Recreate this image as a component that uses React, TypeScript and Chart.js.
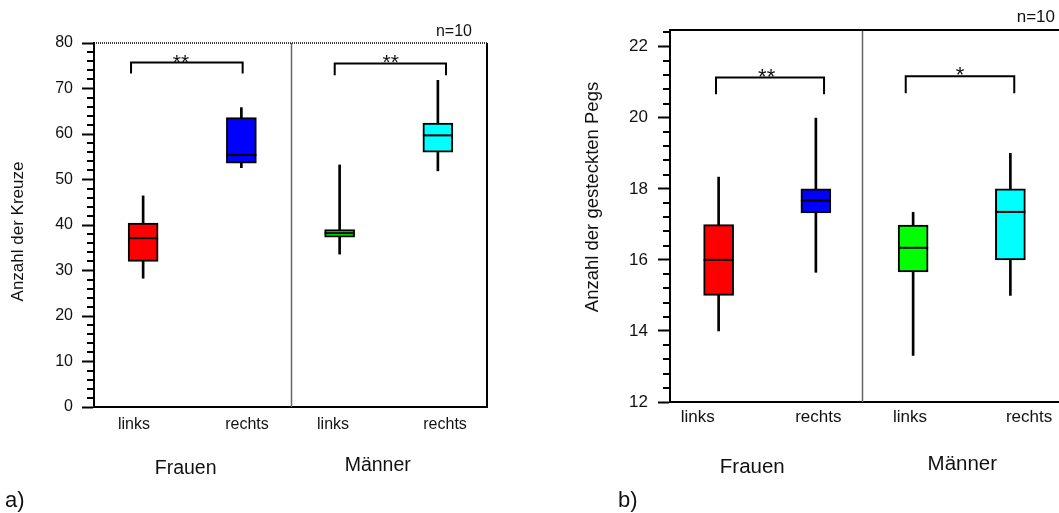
import React, { useEffect, useRef } from "react";
import { Chart, registerables } from "chart.js";

Chart.register(...registerables);

const FONT = "'Liberation Sans', Arial, Helvetica, sans-serif";
const INK = "#111111";

// ---------- shared categories ----------
const boxPositions = [0.5, 1.5, 2.5, 3.5];
const boxColors = ["#ff0000", "#0000ff", "#00ff00", "#00ffff"];
const sideLabels = ["links", "rechts", "links", "rechts"];
const groupLabels = ["Frauen", "Männer"];

// ---------- panel a) Anzahl der Kreuze ----------
const aMin = [28.3, 52.6, 33.6, 51.9];
const aQ1 = [32.0, 53.6, 37.3, 56.0];
const aMedian = [37.1, 55.4, 38.2, 59.7];
const aQ3 = [40.4, 63.6, 39.0, 62.4];
const aMax = [46.4, 65.8, 53.2, 71.8];
const aSignificance = ["**", "**"];
const aBracketTop = [75.7, 75.5];
const aBracketEnd = [73.3, 72.9];

// ---------- panel b) Anzahl der gesteckten Pegs ----------
const bMin = [14.0, 15.65, 13.31, 15.0];
const bQ1 = [15.0, 17.32, 15.66, 16.0];
const bMedian = [16.0, 17.67, 16.34, 17.35];
const bQ3 = [16.99, 18.0, 16.98, 18.0];
const bMax = [18.33, 19.99, 17.34, 19.0];
const bSignificance = ["**", "*"];
const bBracketTop = [21.13, 21.17];
const bBracketEnd = [20.66, 20.69];

type Panel = {
  min: number[]; q1: number[]; med: number[]; q3: number[]; max: number[];
  sig: string[]; bracketTop: number[]; bracketEnd: number[];
  bracketFrom: number[]; bracketTo: number[]; sigX: number[];
  labelPos: number[]; groupPos: number[]; groupBaseline: number[];
  yMin: number; yMax: number; majorStep: number; minorStep: number;
  yTitle: string; tag: string;
  canvasW: number; yAxisW: number; top: number; rightPad: number; xAxisH: number;
  boxW: number; tickFont: number; titleFont: number; groupFont: number; sigFont: number;
  xPad: number; yPad: number; divider: number;
  topDotted: boolean; rightBorder: boolean;
  titleX: number; titleY: number; tagX: number;
  nRightOffset: number; nBaseline: number;
};

const panelA: Panel = {
  min: aMin, q1: aQ1, med: aMedian, q3: aQ3, max: aMax,
  sig: aSignificance, bracketTop: aBracketTop, bracketEnd: aBracketEnd,
  bracketFrom: [0.377, 2.45], bracketTo: [1.513, 3.583], sigX: [0.885, 3.02],
  labelPos: [0.407, 1.557, 2.433, 3.573], groupPos: [0.933, 2.888], groupBaseline: [474, 470.5],
  yMin: 0, yMax: 80, majorStep: 10, minorStep: 2,
  yTitle: "Anzahl der Kreuze", tag: "a)",
  canvasW: 530, yAxisW: 94, top: 43, rightPad: 43, xAxisH: 106,
  boxW: 30, tickFont: 16, titleFont: 17, groupFont: 19.5, sigFont: 21,
  xPad: 8, yPad: 9, divider: 2.0,
  topDotted: true, rightBorder: true,
  titleX: 18, titleY: 231.5, tagX: 5,
  nRightOffset: 15, nBaseline: 35.5,
};

const panelB: Panel = {
  min: bMin, q1: bQ1, med: bMedian, q3: bQ3, max: bMax,
  sig: bSignificance, bracketTop: bBracketTop, bracketEnd: bBracketEnd,
  bracketFrom: [0.473, 2.424], bracketTo: [1.584, 3.54], sigX: [0.994, 2.982],
  labelPos: [0.285, 1.525, 2.468, 3.692], groupPos: [0.846, 3.006], groupBaseline: [472.5, 470],
  yMin: 12, yMax: 22.47, majorStep: 2, minorStep: 0.4,
  yTitle: "Anzahl der gesteckten Pegs", tag: "b)",
  canvasW: 529, yAxisW: 140, top: 30, rightPad: 0, xAxisH: 111,
  boxW: 30, tickFont: 17, titleFont: 18.5, groupFont: 20.5, sigFont: 22,
  xPad: 5, yPad: 10, divider: 1.974,
  topDotted: false, rightBorder: false,
  titleX: 63, titleY: 197, tagX: 88,
  nRightOffset: 4, nBaseline: 21.5,
};

function decorPlugin(p: Panel) {
  return {
    id: "decor",
    afterDraw(chart: any) {
      const { ctx, chartArea: ca, scales } = chart;
      const x = scales.x;
      const y = scales.y;
      ctx.save();
      // minor ticks
      ctx.strokeStyle = "#000";
      ctx.lineWidth = 2;
      const n = Math.round((p.yMax - p.yMin) / p.minorStep);
      for (let i = 0; i <= n; i++) {
        const v = p.yMin + i * p.minorStep;
        const r = v / p.majorStep;
        if (Math.abs(r - Math.round(r)) < 1e-6) continue;
        const py = Math.round(y.getPixelForValue(v));
        ctx.beginPath();
        ctx.moveTo(ca.left - 7, py);
        ctx.lineTo(ca.left, py);
        ctx.stroke();
      }
      // divider between groups
      ctx.strokeStyle = "#666";
      ctx.lineWidth = 1.5;
      const dx = Math.round(x.getPixelForValue(p.divider)) + 0.5;
      ctx.beginPath();
      ctx.moveTo(dx, ca.top);
      ctx.lineTo(dx, ca.bottom);
      ctx.stroke();
      // frame top / right
      ctx.strokeStyle = "#000";
      if (p.topDotted) {
        ctx.lineWidth = 1.5;
        ctx.setLineDash([1, 1]);
      } else {
        ctx.lineWidth = 2;
      }
      ctx.beginPath();
      ctx.moveTo(ca.left, ca.top);
      ctx.lineTo(ca.right, ca.top);
      ctx.stroke();
      ctx.setLineDash([]);
      if (p.rightBorder) {
        ctx.lineWidth = 2;
        ctx.beginPath();
        ctx.moveTo(ca.right, ca.top);
        ctx.lineTo(ca.right, ca.bottom);
        ctx.stroke();
      }
      // significance brackets
      ctx.lineWidth = 2;
      ctx.fillStyle = INK;
      for (let i = 0; i < p.sig.length; i++) {
        const xl = x.getPixelForValue(p.bracketFrom[i]);
        const xr = x.getPixelForValue(p.bracketTo[i]);
        const yt = y.getPixelForValue(p.bracketTop[i]);
        const ye = y.getPixelForValue(p.bracketEnd[i]);
        ctx.beginPath();
        ctx.moveTo(xl, ye);
        ctx.lineTo(xl, yt);
        ctx.lineTo(xr, yt);
        ctx.lineTo(xr, ye);
        ctx.stroke();
        ctx.font = `${p.sigFont}px ${FONT}`;
        ctx.textAlign = "center";
        ctx.textBaseline = "alphabetic";
        ctx.fillText(p.sig[i], x.getPixelForValue(p.sigX[i]), yt + 6);
      }
      // group labels
      ctx.font = `${p.groupFont}px ${FONT}`;
      ctx.textAlign = "center";
      ctx.textBaseline = "alphabetic";
      for (let i = 0; i < groupLabels.length; i++) {
        ctx.fillText(groupLabels[i], x.getPixelForValue(p.groupPos[i]), p.groupBaseline[i]);
      }
      // n=10
      ctx.font = `${p.tickFont}px ${FONT}`;
      ctx.textAlign = "right";
      ctx.fillText("n=10", ca.right - p.nRightOffset, p.nBaseline);
      // panel tag
      ctx.font = `22px ${FONT}`;
      ctx.textAlign = "left";
      ctx.fillText(p.tag, p.tagX, 507);
      // y axis title
      ctx.save();
      ctx.translate(p.titleX, p.titleY);
      ctx.rotate(-Math.PI / 2);
      ctx.font = `${p.titleFont}px ${FONT}`;
      ctx.textAlign = "center";
      ctx.textBaseline = "middle";
      ctx.fillText(p.yTitle, 0, 0);
      ctx.restore();
      ctx.restore();
    },
  };
}

function makeConfig(p: Panel): any {
  return {
    type: "bar",
    data: {
      datasets: [
        {
          type: "scatter",
          data: p.med.map((v, i) => ({ x: boxPositions[i], y: v })),
          pointStyle: "line",
          pointRadius: p.boxW / 2,
          pointHoverRadius: p.boxW / 2,
          borderColor: "#000",
          borderWidth: 2,
          showLine: false,
          clip: false,
        },
        {
          type: "bar",
          data: p.q1.map((v, i) => ({ x: boxPositions[i], y: [v, p.q3[i]] })),
          backgroundColor: boxColors,
          borderColor: "#000",
          borderWidth: 2,
          borderSkipped: false,
          barThickness: p.boxW,
          grouped: false,
        },
        {
          type: "bar",
          data: p.min.map((v, i) => ({ x: boxPositions[i], y: [v, p.max[i]] })),
          backgroundColor: "#000",
          borderWidth: 0,
          barThickness: 2,
          grouped: false,
        },
      ],
    },
    options: {
      responsive: false,
      animation: false,
      events: [],
      layout: { autoPadding: false, padding: { left: 0, top: p.top, right: p.rightPad, bottom: 0 } },
      plugins: { legend: { display: false }, tooltip: { enabled: false } },
      scales: {
        x: {
          type: "linear",
          min: 0,
          max: 4,
          offset: false,
          afterBuildTicks: (axis: any) => {
            axis.ticks = p.labelPos.map((v) => ({ value: v }));
          },
          afterFit: (s: any) => {
            s.height = p.xAxisH;
            s.paddingLeft = 0;
            s.paddingRight = 0;
          },
          ticks: {
            autoSkip: false,
            maxRotation: 0,
            padding: p.xPad,
            color: INK,
            font: { family: FONT, size: p.tickFont },
            callback: (_v: any, i: number) => sideLabels[i],
          },
          grid: { display: false, drawTicks: false, offset: false },
          border: { display: true, color: "#000", width: 2 },
        },
        y: {
          type: "linear",
          min: p.yMin,
          max: p.yMax,
          afterFit: (s: any) => {
            s.width = p.yAxisW;
            s.paddingTop = 0;
            s.paddingBottom = 0;
          },
          ticks: {
            stepSize: p.majorStep,
            includeBounds: false,
            padding: p.yPad,
            color: INK,
            font: { family: FONT, size: p.tickFont },
          },
          grid: {
            drawOnChartArea: false,
            drawTicks: true,
            tickLength: 12,
            tickWidth: 2,
            tickColor: "#000",
          },
          border: { display: true, color: "#000", width: 2 },
        },
      },
    },
    plugins: [decorPlugin(p)],
  };
}

function PanelChart({ panel, left }: { panel: Panel; left: number }) {
  const ref = useRef<HTMLCanvasElement | null>(null);
  useEffect(() => {
    if (!ref.current) return;
    const chart = new Chart(ref.current, makeConfig(panel));
    return () => chart.destroy();
  }, [panel]);
  return (
    <canvas
      ref={ref}
      width={panel.canvasW}
      height={513}
      style={{ position: "absolute", left, top: 0, width: panel.canvasW, height: 513, display: "block" }}
    />
  );
}

export default function App() {
  return (
    <div
      style={{
        position: "absolute",
        left: 0,
        top: 0,
        width: 1059,
        height: 513,
        background: "#fff",
        overflow: "hidden",
      }}
    >
      <PanelChart panel={panelA} left={0} />
      <PanelChart panel={panelB} left={530} />
    </div>
  );
}
